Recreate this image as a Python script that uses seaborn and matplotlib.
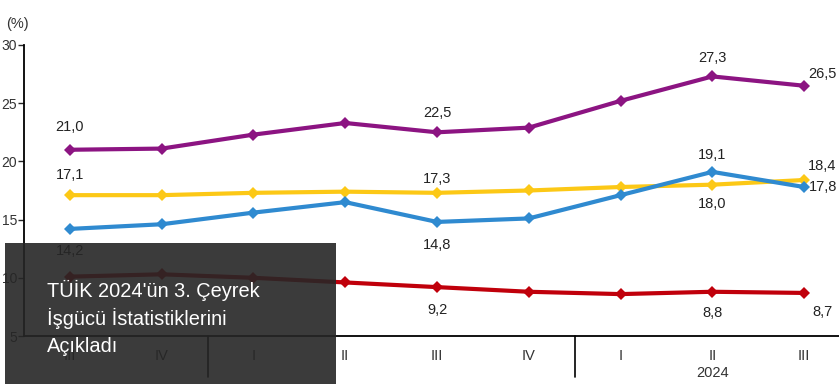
import numpy as np
import pandas as pd
import matplotlib
matplotlib.use("Agg")
import matplotlib.pyplot as plt
from matplotlib.patches import Rectangle
import seaborn as sns

# quarters shown on the x axis (2022 Q3 .. 2024 Q3)
quarters = ["III", "IV", "I", "II", "III", "IV", "I", "II", "III"]
year_label = "2024"

purple = [21.0, 21.1, 22.3, 23.3, 22.5, 22.9, 25.2, 27.3, 26.5]
yellow = [17.1, 17.1, 17.3, 17.4, 17.3, 17.5, 17.8, 18.0, 18.4]
blue = [14.2, 14.6, 15.6, 16.5, 14.8, 15.1, 17.1, 19.1, 17.8]
red = [10.1, 10.3, 10.0, 9.6, 9.2, 8.8, 8.6, 8.8, 8.7]

colors = {"purple": "#8c1482", "yellow": "#fcc816", "blue": "#2f8ad0", "red": "#c0000b"}

# which points get a value label, and where (pixel offset)
labels = {
    "purple": {0: (0, 23), 4: (0, 19), 7: (0, 18), 8: (18, 12)},
    "yellow": {0: (0, 20), 4: (0, 14), 7: (0, -19), 8: (18, 14)},
    "blue": {0: (0, -22), 4: (0, -23), 7: (0, 17), 8: (19, 0)},
    "red": {4: (0, -23), 7: (0, -21), 8: (18, -19)},
}

series = {"purple": purple, "yellow": yellow, "blue": blue, "red": red}
df = pd.concat([pd.DataFrame({"pos": np.arange(len(quarters)), "value": v, "series": k})
                for k, v in series.items()])

sns.set_style("white")
plt.rcParams["font.family"] = ["Liberation Sans", "DejaVu Sans"]

fig = plt.figure(figsize=(8.39, 3.84), dpi=100)
ax = fig.add_axes([24 / 839, 1 - 336 / 384, (850 - 24) / 839, (336 - 45) / 384])

sns.lineplot(data=df, x="pos", y="value", hue="series", palette=colors,
             marker="D", markersize=6, markeredgewidth=0, linewidth=3,
             legend=False, ax=ax, clip_on=False)

for name, pts in labels.items():
    vals = series[name]
    for i, (dx, dy) in pts.items():
        ax.annotate(f"{vals[i]:.1f}".replace(".", ","), (i, vals[i]),
                    xytext=(dx, dy), textcoords="offset pixels",
                    ha="center", va="center", fontsize=10.5, color="#222222")

ax.set_xlim(-0.5, 8.5)
ax.set_ylim(5, 30)
ax.set_yticks([5, 10, 15, 20, 25, 30])
ax.set_xticks(range(len(quarters)))
ax.set_xticklabels(quarters, fontsize=10.5, color="#333333")
ax.tick_params(axis="x", length=0, pad=9)
ax.tick_params(axis="y", length=4, width=1, direction="out", left=True,
               labelsize=10, labelcolor="#333333", pad=1)
ax.set_xlabel("")
ax.set_ylabel("")
for s in ["top", "right"]:
    ax.spines[s].set_visible(False)
for s in ["left", "bottom"]:
    ax.spines[s].set_color("black")
    ax.spines[s].set_linewidth(1.3)

# year separators and the visible year label below the axis
for xs in [1.5, 5.5]:
    ax.plot([xs, xs], [5, 1.5], color="black", lw=1.2, clip_on=False)
ax.annotate(year_label, (7.0, 5), xytext=(0, -37), textcoords="offset pixels",
            ha="center", va="center", fontsize=10.5, color="#333333", annotation_clip=False)

fig.text(6 / 839, 1 - 24 / 384, "(%)", ha="left", va="center", fontsize=10.5, color="#333333")

# dark caption box overlay
fig.patches.append(Rectangle((5 / 839, 0), 331 / 839, 141 / 384, transform=fig.transFigure,
                             facecolor="#262626", alpha=0.9, edgecolor="none", zorder=10))
title_lines = ["TÜİK 2024'ün 3. Çeyrek", "İşgücü İstatistiklerini", "Açıkladı"]
for k, line in enumerate(title_lines):
    fig.text(47 / 839, 1 - (290 + 28 * k) / 384, line, ha="left", va="center",
             fontsize=14.4, color="white", zorder=11)

fig.savefig("out.png", dpi=100)
